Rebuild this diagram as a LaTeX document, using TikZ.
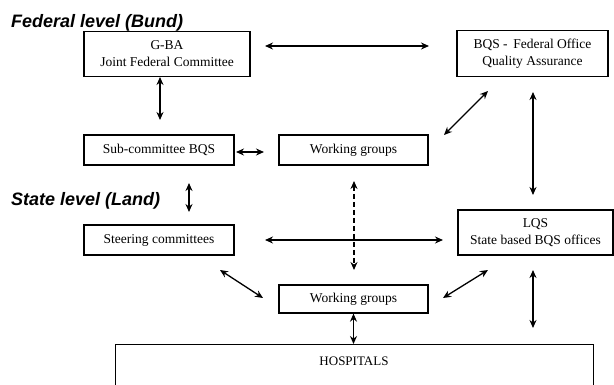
\documentclass[tikz,border=0pt]{standalone}
\usepackage{fontspec}
\setmainfont{Liberation Serif}
\newfontfamily\titlefont{Liberation Sans}
\usetikzlibrary{arrows.meta}
\begin{document}
\begin{tikzpicture}[x=1pt,y=-1pt,
  box/.style={draw,line width=1.3pt,inner sep=0pt,align=center,font=\fontsize{13.5}{17}\selectfont},
  lvl/.style={font=\titlefont\bfseries\itshape\fontsize{18}{20}\selectfont,anchor=base west,inner sep=0pt},
  link/.style={line width=1.3pt,{Stealth[length=8pt,width=7pt]}-{Stealth[length=8pt,width=7pt]}},
  dlink/.style={link,dash pattern=on 5pt off 3pt}]
\useasboundingbox (0,0) rectangle (614,385);
\fill[white] (0,0) rectangle (614,385);
\node[lvl] (fed) at (11,27.5) {Federal level (Bund)};
\node[lvl] (sta) at (11,206) {State level (Land)};
\node[box,minimum width=166pt,minimum height=45pt] (gba) at (167,54) {G-BA\\Joint Federal Committee};
\node[box,minimum width=151pt,minimum height=46pt] (bqs) at (532.5,53.5) {BQS -\, Federal Office\\Quality Assurance};
\node[box,minimum width=150pt,minimum height=30pt] (sub) at (159,150) {Sub-committee BQS};
\node[box,minimum width=149pt,minimum height=30pt] (wg1) at (353.5,150) {Working groups};
\node[box,minimum width=150pt,minimum height=30pt] (ste) at (159,240) {Steering committees};
\node[box,minimum width=155pt,minimum height=45pt] (lqs) at (535.5,232.5) {LQS\\State based BQS offices};
\node[box,minimum width=149pt,minimum height=28pt] (wg2) at (353.5,299) {Working groups};
\node[box,minimum width=478pt,minimum height=41pt,anchor=north west] (hos) at (115,344) {};
\node[font=\fontsize{13}{15}\selectfont] (hostxt) at (354,361) {HOSPITALS};
% coordinates for free ends
\coordinate (a1) at (265,46); \coordinate (a2) at (429,46);
\coordinate (b1) at (160,77); \coordinate (b2) at (160,120);
\coordinate (c1) at (236,152); \coordinate (c2) at (264,152);
\coordinate (d1) at (444,135); \coordinate (d2) at (488,91);
\coordinate (e1) at (533,92); \coordinate (e2) at (533,195);
\coordinate (f1) at (189,183); \coordinate (f2) at (189,212);
\coordinate (g1) at (265,240); \coordinate (g2) at (443,240);
\coordinate (h1) at (354,181); \coordinate (h2) at (354,270);
\coordinate (i1) at (220,270); \coordinate (i2) at (263,298);
\coordinate (j1) at (443,298); \coordinate (j2) at (488,270);
\coordinate (k1) at (533,270); \coordinate (k2) at (533,328);
\draw[link] (a1) -- (a2);
\draw[link] (b1) -- (b2);
\draw[link] (c1) -- (c2);
\draw[link] (d1) -- (d2);
\draw[link] (e1) -- (e2);
\draw[link] (f1) -- (f2);
\draw[link] (g1) -- (g2);
\draw[dlink] (h1) -- (h2);
\draw[link] (i1) -- (i2);
\draw[link] (j1) -- (j2);
\draw[link] (k1) -- (k2);
\draw[link] (wg2.south) -- (hos.north -| wg2.south);
\end{tikzpicture}
\end{document}
